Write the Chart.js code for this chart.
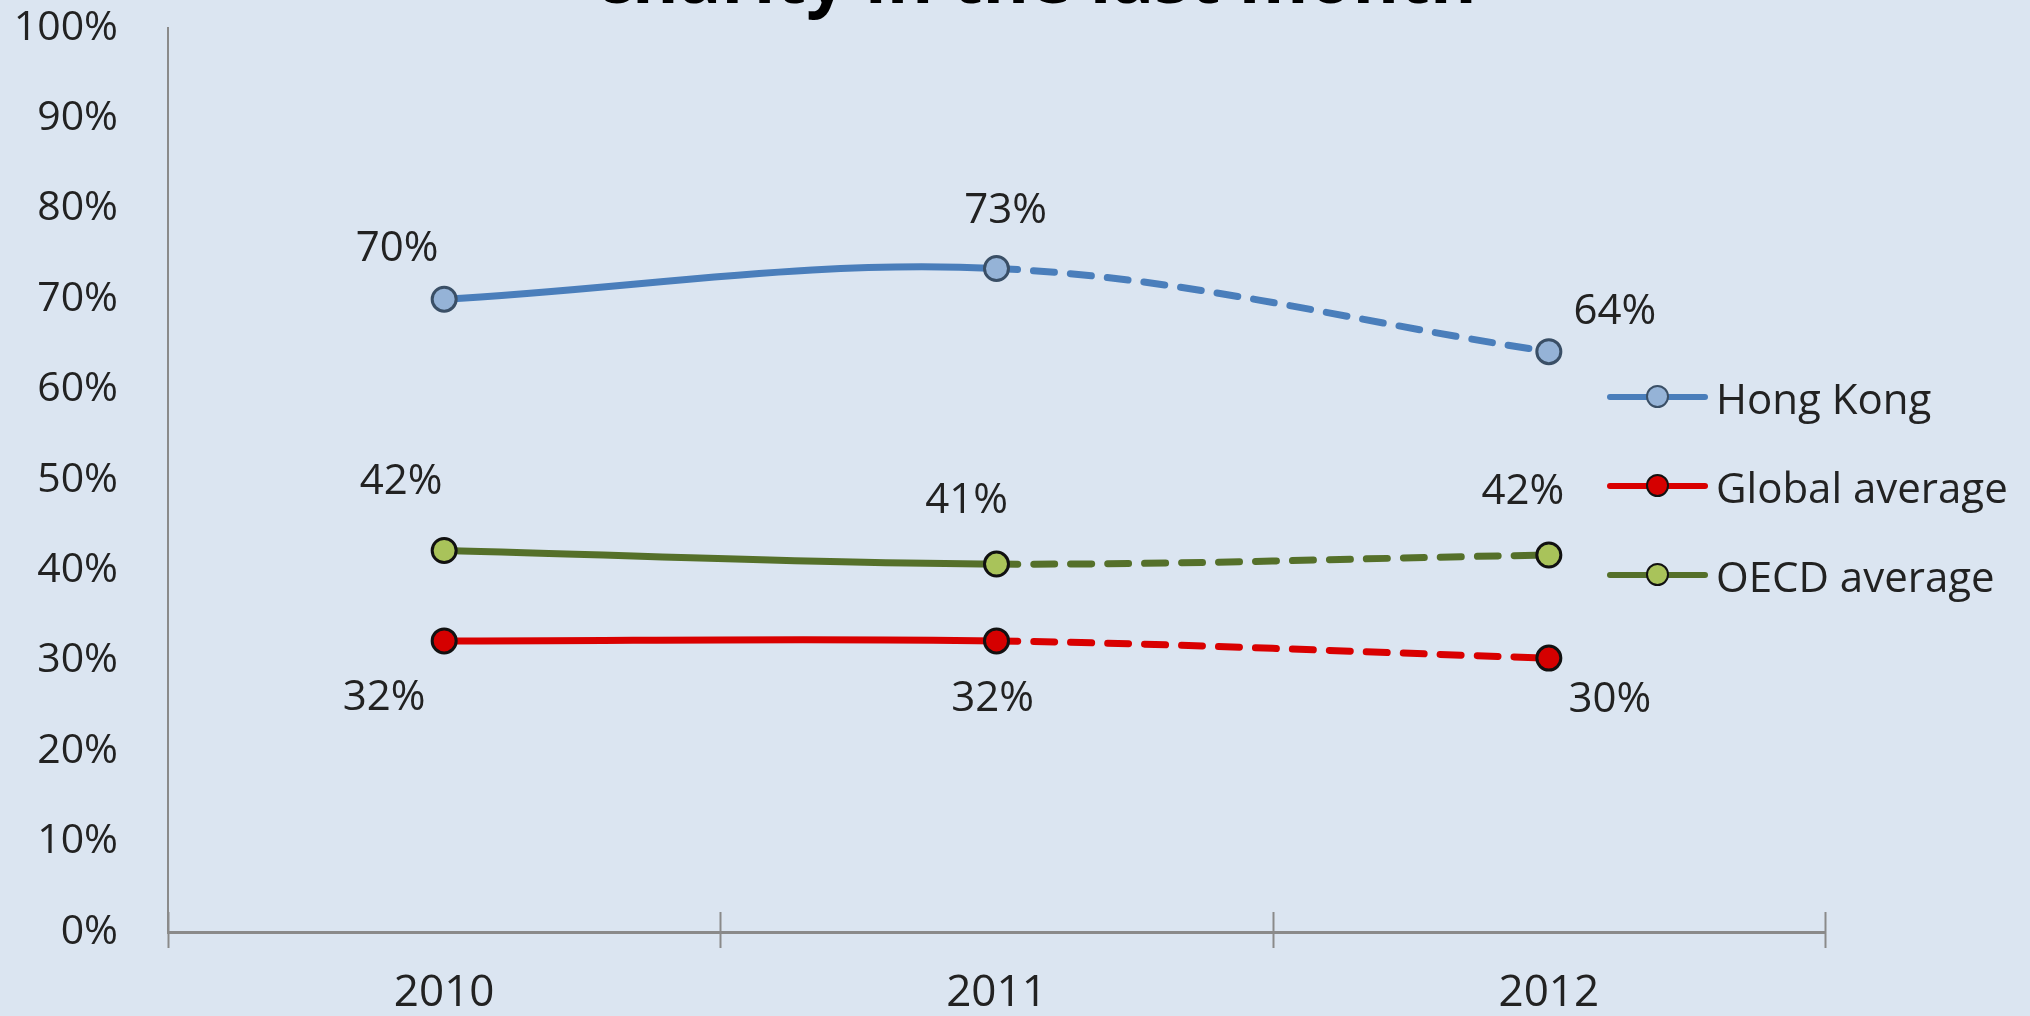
<!DOCTYPE html>
<html lang="en">

<head>
    <meta charset="UTF-8">
    <title>Donated money to a charity in the last month</title>
    <script src="https://cdn.jsdelivr.net/npm/chart.js"></script>

    <style>
        body {
            margin: 0;
            background-color: #dbe5f1;
            font-family: 'Open Sans', sans-serif;
        }

        .wrap {
            position: relative;
            width: 2030px;
            height: 1016px;
            overflow: hidden;
        }

        .title {
            position: absolute;
            left: 0;
            width: 2072px;
            top: -60px;
            text-align: center;
            font-size: 71px;
            line-height: 71px;
            font-weight: bold;
            color: #000;
        }

        .legend {
            position: absolute;
            left: 1607px;
            top: 370px;
        }

        .legend .row {
            display: flex;
            align-items: center;
            height: 54px;
            margin-bottom: 35px;
            font-size: 42px;
            color: #222;
        }

        .legend .sym {
            position: relative;
            width: 101px;
            height: 6px;
            border-radius: 3px;
            margin-right: 8px;
        }

        .legend .dot {
            position: absolute;
            left: 39px;
            top: -9px;
            width: 19px;
            height: 19px;
            border-radius: 50%;
            border: 2px solid #222;
        }
    </style>
</head>

<body>
    <div class="wrap">
        <canvas id="chart"></canvas>
        <div class="title">charity in the last month</div>
        <div class="legend" id="legend"></div>
    </div>

    <script>
        const years = ['2010', '2011', '2012'];
        const hongKong = [70, 73.4, 64.2];
        const globalAverage = [32.2, 32.2, 30.3];
        const oecdAverage = [42.2, 40.7, 41.7];
        const seriesNames = ['Hong Kong', 'Global average', 'OECD average'];

        // the last segment (2011 -> 2012) is dashed
        const dashLast = ctx => ctx.p0DataIndex >= 1 ? [21, 16] : undefined;

        const valueLabels = {
            id: 'valueLabels',
            afterDatasetsDraw(chart) {
                const ctx = chart.ctx;
                ctx.save();
                ctx.font = '42px "Open Sans"';
                ctx.fillStyle = '#222';
                ctx.textAlign = 'center';
                ctx.textBaseline = 'middle';
                chart.data.datasets.forEach((ds, i) => {
                    const meta = chart.getDatasetMeta(i);
                    meta.data.forEach((pt, j) => {
                        const off = ds.labelOffset[j];
                        ctx.fillText(Math.round(ds.data[j]) + '%', pt.x + off[0], pt.y + off[1]);
                    });
                });
                ctx.restore();
            }
        };

        // tick marks crossing the category axis, between the years
        const crossTicks = {
            id: 'crossTicks',
            afterDraw(chart) {
                const x = chart.scales.x;
                const ctx = chart.ctx;
                ctx.save();
                ctx.strokeStyle = '#8a8a8a';
                ctx.lineWidth = 2;
                for (let i = 0; i <= years.length; i++) {
                    const px = Math.round(x.getPixelForValue(i - 0.5)) + 0.5;
                    ctx.beginPath();
                    ctx.moveTo(px, x.top - 20);
                    ctx.lineTo(px, x.top + 16);
                    ctx.stroke();
                }
                ctx.restore();
            }
        };

        const datasets = [
            {
                label: seriesNames[0],
                data: hongKong,
                borderColor: '#4a7ebb',
                pointBackgroundColor: '#95b3d7',
                pointBorderColor: '#3a4f66',
                labelOffset: [[-47, -50], [9, -57], [66, -40]]
            },
            {
                label: seriesNames[1],
                data: globalAverage,
                borderColor: '#d90000',
                pointBackgroundColor: '#d50000',
                pointBorderColor: '#111',
                labelOffset: [[-60, 57], [-4, 58], [61, 42]]
            },
            {
                label: seriesNames[2],
                data: oecdAverage,
                borderColor: '#55702a',
                pointBackgroundColor: '#a9c35a',
                pointBorderColor: '#111',
                labelOffset: [[-43, -68], [-30, -63], [-26, -63]]
            }
        ];
        datasets.forEach(ds => {
            ds.borderWidth = 7;
            ds.tension = 0.35;
            ds.borderCapStyle = 'round';
            ds.pointRadius = 12;
            ds.pointBorderWidth = 3;
            ds.segment = { borderDash: dashLast };
        });

        const legendEl = document.getElementById('legend');
        datasets.forEach(ds => {
            const row = document.createElement('div');
            row.className = 'row';
            row.innerHTML = `<span class="sym" style="background:${ds.borderColor}">
                <span class="dot" style="background:${ds.pointBackgroundColor};border-color:${ds.pointBorderColor}"></span></span>
                <span>${ds.label}</span>`;
            legendEl.appendChild(row);
        });

        Chart.defaults.font.family = '"Open Sans", sans-serif';

        new Chart(document.getElementById('chart'), {
            type: 'line',
            data: { labels: years, datasets: datasets },
            options: {
                responsive: true,
                maintainAspectRatio: false,
                animation: false,
                layout: { padding: { top: 28, right: 205, left: 16, bottom: 0 } },
                plugins: {
                    legend: { display: false },
                    tooltip: { enabled: false }
                },
                scales: {
                    x: {
                        offset: true,
                        grid: { offset: true, drawOnChartArea: false, drawTicks: false },
                        border: { color: '#8a8a8a', width: 3 },
                        ticks: { font: { size: 44 }, color: '#222', padding: 35 },
                        afterFit: s => { s.height = 84; }
                    },
                    y: {
                        min: 0,
                        max: 100,
                        grid: { drawOnChartArea: false, drawTicks: false },
                        border: { color: '#8a8a8a', width: 2 },
                        ticks: {
                            stepSize: 10,
                            font: { size: 41 },
                            color: '#222',
                            padding: 50,
                            callback: v => v + '%'
                        },
                        afterFit: s => { s.width = 152; s.paddingTop = 0; s.paddingBottom = 0; }
                    }
                }
            },
            plugins: [valueLabels, crossTicks]
        });
    </script>
</body>

</html>
